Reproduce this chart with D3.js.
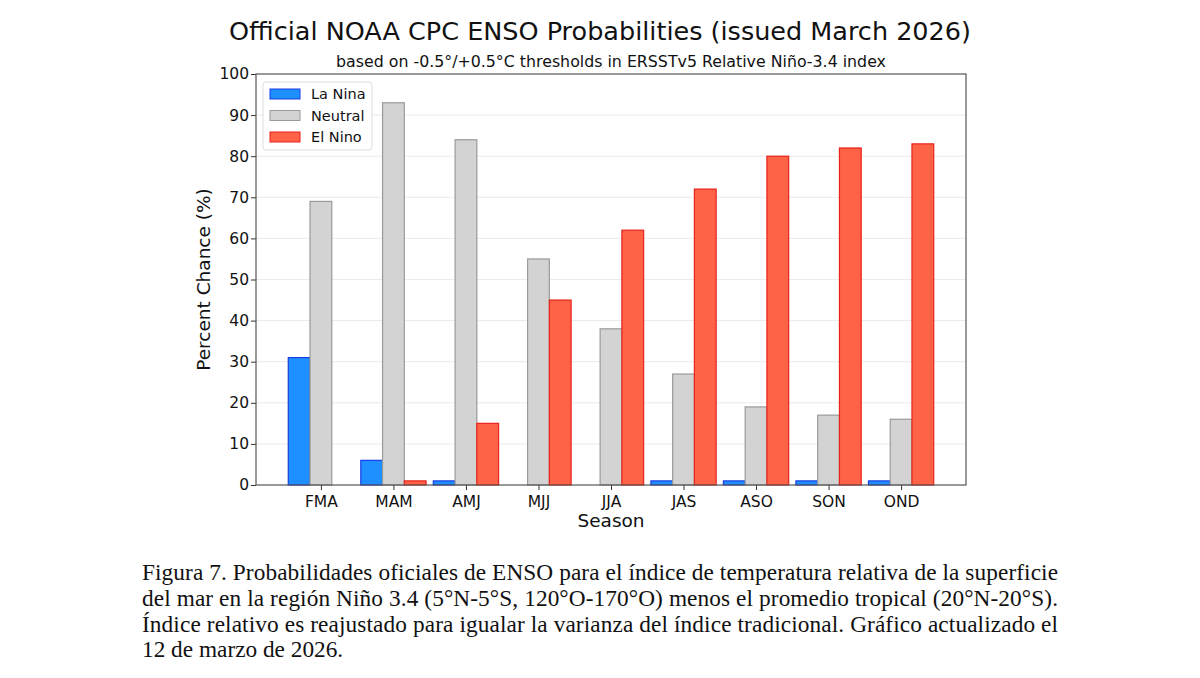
<!DOCTYPE html>
<html>
<head>
<meta charset="utf-8">
<script src="https://cdn.jsdelivr.net/npm/d3@7"></script>
<style>
  body { margin: 0; background: #fff; }
  svg { display: block; }
</style>
</head>
<body>
<div class="chart"></div>
<script>
// DATA ------------------------------------
const seasons = ["FMA", "MAM", "AMJ", "MJJ", "JJA", "JAS", "ASO", "SON", "OND"];
const laNina  = [31, 6, 1, 0, 0, 1, 1, 1, 1];
const neutral = [69, 93, 84, 55, 38, 27, 19, 17, 16];
const elNino  = [0, 1, 15, 45, 62, 72, 80, 82, 83];
const yTicks  = [0, 10, 20, 30, 40, 50, 60, 70, 80, 90, 100];

const seriesNames = ["La Nina", "Neutral", "El Nino"];
const fills   = ["#1e8fff", "#d3d3d3", "#ff6347"];
const strokes = ["#1a3ce6", "#9a9a9a", "#e8231a"];

const caption = [
  "Figura 7. Probabilidades oficiales de ENSO para el índice de temperatura relativa de la superficie",
  "del mar en la región Niño 3.4 (5°N-5°S, 120°O-170°O) menos el promedio tropical (20°N-20°S).",
  "Índice relativo es reajustado para igualar la varianza del índice tradicional. Gráfico actualizado el",
  "12 de marzo de 2026."
];

// CHART INIT ------------------------------
const W = 1200, H = 678;
const margin = {top: 74, left: 256, right: 234, bottom: 193};
const width = W - margin.left - margin.right,
      height = H - margin.top - margin.bottom;

const svg = d3.select(".chart").append("svg")
    .attr("width", W)
    .attr("height", H);

const g = svg.append("g")
    .attr("transform", "translate(" + margin.left + "," + margin.top + ")");

const barW = 0.3;
const xScale = d3.scaleLinear()
    .domain([-0.895, seasons.length - 1 + 0.895])
    .range([0, width]);

const yScale = d3.scaleLinear()
    .domain([0, 100])
    .range([height, 0]);

// grid
g.append("g").selectAll("line")
    .data(yTicks.slice(1, -1))
    .enter().append("line")
    .attr("x1", 0).attr("x2", width)
    .attr("y1", d => yScale(d)).attr("y2", d => yScale(d))
    .attr("stroke", "#ebebeb")
    .attr("stroke-width", 1);

// bars
const series = [laNina, neutral, elNino];
series.forEach(function(vals, s) {
    g.append("g").selectAll("rect")
        .data(vals)
        .enter().append("rect")
        .attr("x", (d, i) => xScale(i + (s - 1) * barW - barW / 2))
        .attr("width", xScale(barW) - xScale(0))
        .attr("y", d => yScale(d))
        .attr("height", d => height - yScale(d))
        .attr("fill", fills[s])
        .attr("stroke", strokes[s])
        .attr("stroke-width", 1.2);
});

// axes
const xAxis = g.append("g")
    .attr("transform", "translate(0," + height + ")")
    .call(d3.axisBottom(xScale)
        .tickValues(d3.range(seasons.length))
        .tickFormat(i => seasons[i])
        .tickSize(5).tickSizeOuter(0));

const yAxis = g.append("g")
    .call(d3.axisLeft(yScale)
        .tickValues(yTicks)
        .tickSize(5).tickSizeOuter(0));

[xAxis, yAxis].forEach(function(a) {
    a.select(".domain").remove();
    a.selectAll("line").attr("stroke", "#333").attr("stroke-width", 1);
    a.selectAll("text")
        .attr("font-family", "DejaVu Sans")
        .attr("font-size", 15.5)
        .attr("fill", "#111");
});
xAxis.selectAll("text").attr("y", 6).attr("dy", "1em");
yAxis.selectAll("text").attr("x", -7);

// frame
g.append("rect")
    .attr("width", width).attr("height", height)
    .attr("fill", "none")
    .attr("stroke", "#555")
    .attr("stroke-width", 1.2);

// axis titles
svg.append("text")
    .attr("transform", "translate(210," + (margin.top + height / 2) + ") rotate(-90)")
    .attr("text-anchor", "middle")
    .attr("font-family", "DejaVu Sans")
    .attr("font-size", 18.5)
    .attr("fill", "#111")
    .text("Percent Chance (%)");

svg.append("text")
    .attr("x", margin.left + width / 2)
    .attr("y", 527)
    .attr("text-anchor", "middle")
    .attr("font-family", "DejaVu Sans")
    .attr("font-size", 18.5)
    .attr("fill", "#111")
    .text("Season");

// titles
svg.append("text")
    .attr("x", 600)
    .attr("y", 40)
    .attr("text-anchor", "middle")
    .attr("font-family", "DejaVu Sans")
    .attr("font-size", 25.5)
    .attr("fill", "#111")
    .text("Official NOAA CPC ENSO Probabilities (issued March 2026)");

svg.append("text")
    .attr("x", margin.left + width / 2)
    .attr("y", 67)
    .attr("text-anchor", "middle")
    .attr("font-family", "DejaVu Sans")
    .attr("font-size", 15.8)
    .attr("fill", "#111")
    .text("based on -0.5°/+0.5°C thresholds in ERSSTv5 Relative Niño-3.4 index");

// legend
const legend = g.append("g").attr("transform", "translate(7,8)");
legend.append("rect")
    .attr("width", 109).attr("height", 68)
    .attr("rx", 3)
    .attr("fill", "#fff")
    .attr("stroke", "#ddd");
seriesNames.forEach(function(name, s) {
    const row = legend.append("g").attr("transform", "translate(7," + (12 + s * 21.5) + ")");
    row.append("rect")
        .attr("x", 0).attr("y", -5)
        .attr("width", 30).attr("height", 10)
        .attr("fill", fills[s])
        .attr("stroke", strokes[s])
        .attr("stroke-width", 1);
    row.append("text")
        .attr("x", 41).attr("y", 5)
        .attr("font-family", "DejaVu Sans")
        .attr("font-size", 14.5)
        .attr("fill", "#111")
        .text(name);
});

// caption
svg.append("g").selectAll("text")
    .data(caption)
    .enter().append("text")
    .attr("x", 142)
    .attr("y", (d, i) => 580 + i * 25.8)
    .attr("font-family", "Liberation Serif")
    .attr("font-size", 23.3)
    .attr("fill", "#111")
    .each(function(d, i) {
        if (i < caption.length - 1) {
            d3.select(this).attr("textLength", 916).attr("lengthAdjust", "spacing");
        }
    })
    .text(d => d);
</script>
</body>
</html>
